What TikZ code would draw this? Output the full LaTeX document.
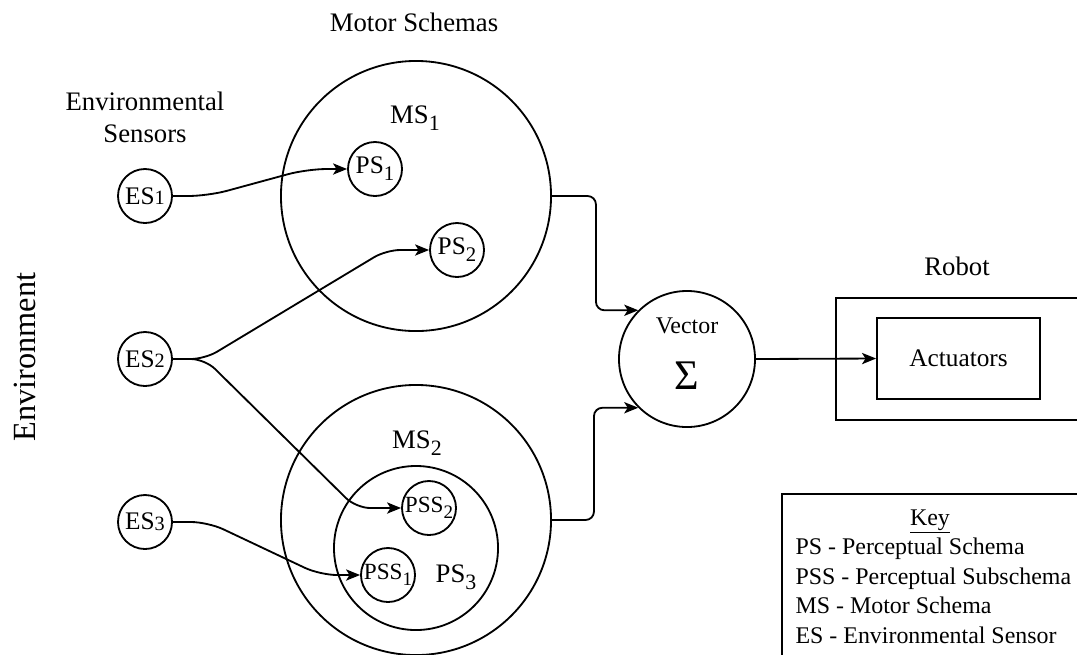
\documentclass[tikz,border=0pt]{standalone}
\usepackage{fontspec}
\setmainfont{Liberation Serif}
\usepackage{tikz}
\usetikzlibrary{arrows,arrows.meta,calc}
\newcommand{\lowsub}[1]{\raisebox{-0.28em}{\scalebox{0.82}{#1}}}
\newcommand{\esnum}[1]{\raisebox{-0.03em}{\scalebox{0.8}{#1}}}

\begin{document}
\begin{tikzpicture}[->,>={Stealth[length=10pt,width=8pt,inset=2.5pt]},x=0.025cm,y=-0.025cm,line width=1.3pt,
                    every node/.style={font=\fontsize{19}{22}\selectfont}]
  \tikzstyle{sensor}=[circle,draw,minimum size=1.35cm,inner sep=-3pt,font=\fontsize{18}{21}\selectfont]
  \tikzstyle{schema}=[circle,draw,minimum size=6.75cm]
  \tikzstyle{box}=[rectangle,draw]
  \useasboundingbox (0,0) rectangle (1077,654);
  \clip (0,0) rectangle (1077,654);

  \node[anchor=base]         (motor)  at (414,31)  {Motor Schemas};
  \node[anchor=base]         (envs)   at (145,110) {Environmental};
  \node[anchor=base]         (envs2)  at (145,142) {Sensors};
  \node[rotate=90,font=\fontsize{23}{28}\selectfont] (environ) at (25,357) {Environment};

  \node[sensor] (ES1) at (145,196) {ES\esnum{1}};
  \node[sensor] (ES2) at (145,359) {ES\esnum{2}};
  \node[sensor] (ES3) at (145,522) {ES\esnum{3}};

  \node[schema] (MS1) at (416,196) {};
  \node[schema] (MS2) at (416,520) {};
  \node[circle,draw,minimum size=4.1cm] (PS3) at (416,548) {};
  \node[anchor=base] (MS1lbl) at (415,123) {MS\lowsub{1}};
  \node[anchor=base] (MS2lbl) at (417,448) {MS\lowsub{2}};
  \node[anchor=base] (PS3lbl) at (456,582) {PS\lowsub{3}};

  \node[sensor] (PS1) at (375,169) {PS\lowsub{1}};
  \node[sensor] (PS2) at (457,250) {PS\lowsub{2}};
  \node[sensor,font=\fontsize{16.5}{20}\selectfont] (PSS2) at (429,508) {PSS\lowsub{2}};
  \node[sensor,font=\fontsize{16.5}{20}\selectfont] (PSS1) at (388,575) {PSS\lowsub{1}};

  \node[circle,draw,minimum size=3.4cm] (Vec) at (687,359) {};
  \node[anchor=base,font=\fontsize{17}{20}\selectfont] (vectxt) at (687,333) {Vector};
  \node[anchor=base,font=\fontsize{30}{34}\selectfont] (sigma)  at (687,389) {Σ};

  \node[anchor=base] (robotlbl) at (957,275) {Robot};
  \node[box,minimum width=6.375cm,minimum height=3.05cm] (robot) at (963.5,359) {};
  \node[box,minimum width=4.075cm,minimum height=2.025cm,font=\fontsize{18}{21}\selectfont] (Act) at (958.5,358.5) {Actuators};

  \node[box,minimum width=7.825cm,minimum height=4.4cm] (keybox) at (938.5,582) {};
  \node[anchor=base,font=\fontsize{17}{20}\selectfont] (keyttl) at (930,525) {\underline{Key}};
  \foreach \txt [count=\i] in {PS - Perceptual Schema,PSS - Perceptual Subschema,
                               MS - Motor Schema,ES - Environmental Sensor}
    \node[anchor=base west,font=\fontsize{17}{20}\selectfont] (key\i) at (790,{525+29.5*\i}) {\txt};

  \draw[rounded corners=14pt] (ES1.east) -- ++(35,0) -- ($(PS1.west)+(-40,0)$) -- (PS1.west);
  \draw[rounded corners=10pt] (ES2.east) -- ++(32,0) -- ($(PS2.west)+(-43,0)$) -- (PS2.west);
  \draw[rounded corners=10pt] (ES2.east) -- ++(32,0) -- ($(PSS2.west)+(-45,0)$) -- (PSS2.west);
  \draw[rounded corners=12pt] (ES3.east) -- ++(35,0) -- ($(PSS1.west)+(-40,0)$) -- (PSS1.west);

  \draw[rounded corners=6pt] (MS1.east) -- ++(44,0) |- (Vec.135);
  \draw[rounded corners=6pt] (MS2.east) -- ++(42,0) |- (Vec.225);
  \draw (Vec.east) -- (Act.west);
\end{tikzpicture}
\end{document}
